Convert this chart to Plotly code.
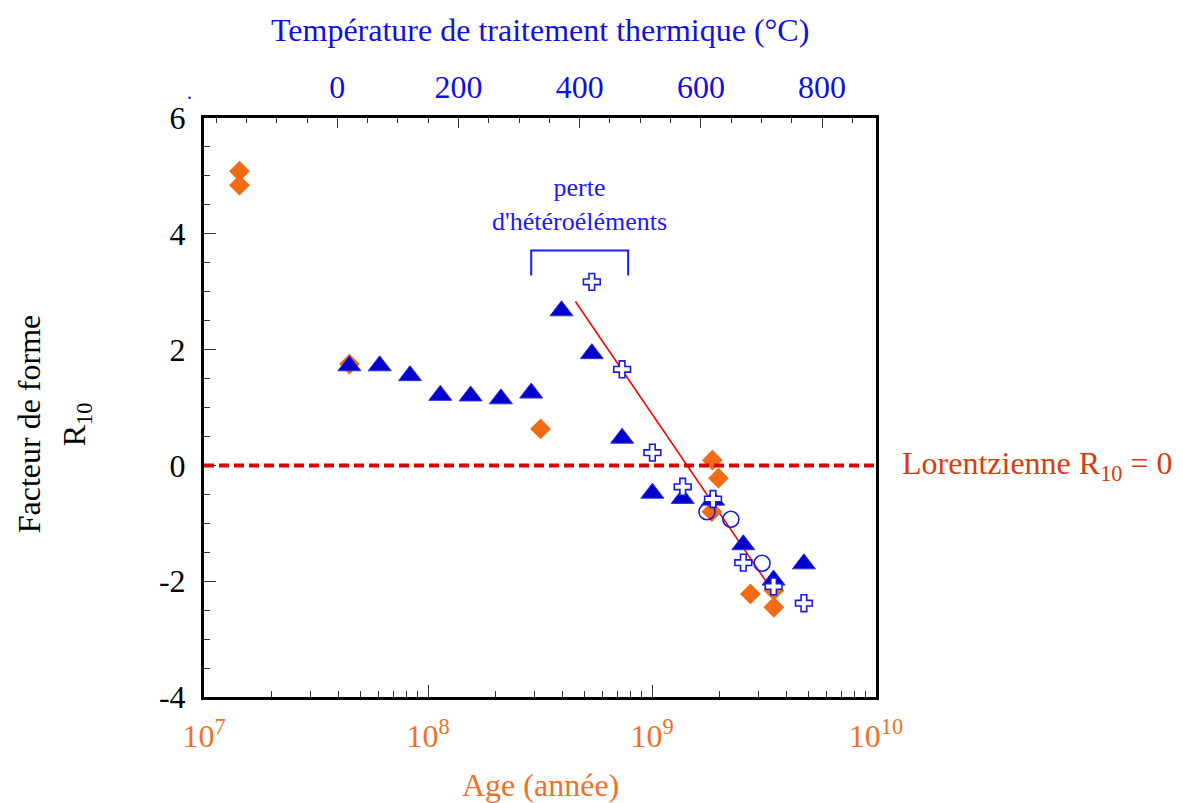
import plotly.graph_objects as go

# ---- data ----
# orange diamonds: age (years) vs R10
age_diamond = [1.44e7, 1.44e7, 4.46e7, 3.18e8, 1.86e9, 1.98e9, 1.85e9, 2.75e9, 3.5e9, 3.5e9]
r10_diamond = [5.08, 4.84, 1.75, 0.63, 0.09, -0.22, -0.80, -2.22, -2.16, -2.45]

# blue triangles: heat-treatment temperature (°C) vs R10
temp_triangle = [20, 70, 120, 170, 220, 270, 320, 370, 420, 470, 520, 570, 620, 670, 720, 770]
r10_triangle = [1.72, 1.72, 1.55, 1.21, 1.20, 1.15, 1.25, 2.67, 1.93, 0.47, -0.48, -0.57, -0.60, -1.37, -1.98, -1.70]

# open crosses: temperature (°C) vs R10
temp_cross = [420, 470, 520, 570, 620, 670, 720, 770]
r10_cross = [3.17, 1.66, 0.22, -0.37, -0.58, -1.68, -2.09, -2.38]

# open circles: age (years) vs R10
age_circle = [1.76e9, 2.25e9, 3.1e9]
r10_circle = [-0.80, -0.93, -1.69]

# red fit line (age axis)
age_fit = [4.55e8, 3.24e9]
r10_fit = [2.83, -2.01]

# bracket "perte d'hétéroéléments" (temperature axis)
temp_bracket = [320, 320, 480, 480]
r10_bracket = [3.28, 3.71, 3.71, 3.28]

# tick labels
y_ticks = [-4, -2, 0, 2, 4, 6]
y_ticktext = ["-4", "-2", "0", "2", "4", "6"]
age_ticks = [1e7, 1e8, 1e9, 1e10]
age_ticktext = ["10<sup>7</sup>", "10<sup>8</sup>", "10<sup>9</sup>", "10<sup>10</sup>"]
age_minor = [k * 10 ** n for n in (7, 8, 9) for k in range(2, 10)]
temp_ticks = [0, 200, 400, 600, 800]

FONT = "Liberation Serif"
FS = 32
BLUE = "#0000cc"
BLUE2 = "#1a1ae6"
TBLUE = "#1010e0"
ORANGE = "#f26b14"
AGEC = "#f07028"
LOR = "#d63c12"

fig = go.Figure()

fig.add_trace(go.Scatter(x=age_fit, y=r10_fit, mode="lines",
                         line=dict(color="#ff0000", width=1.6), xaxis="x", yaxis="y",
                         showlegend=False))
fig.add_trace(go.Scatter(x=age_diamond, y=r10_diamond, mode="markers",
                         marker=dict(symbol="diamond", size=16, color=ORANGE,
                                     line=dict(width=0)),
                         xaxis="x", yaxis="y", showlegend=False))
fig.add_trace(go.Scatter(x=age_circle, y=r10_circle, mode="markers",
                         marker=dict(symbol="circle-open", size=16, color=BLUE2,
                                     line=dict(width=1.6, color=BLUE2)),
                         xaxis="x", yaxis="y", showlegend=False))
fig.add_trace(go.Scatter(x=temp_triangle, y=r10_triangle, mode="markers",
                         marker=dict(symbol="triangle-up", size=20, color=BLUE,
                                     line=dict(width=1, color="#3333dd")),
                         xaxis="x2", yaxis="y", showlegend=False))
fig.add_trace(go.Scatter(x=temp_cross, y=r10_cross, mode="markers",
                         marker=dict(symbol="cross", size=14, color="white",
                                     line=dict(width=1.6, color=BLUE2)),
                         xaxis="x2", yaxis="y", showlegend=False))
fig.add_trace(go.Scatter(x=temp_bracket, y=r10_bracket, mode="lines",
                         line=dict(color="#1a1aff", width=2),
                         xaxis="x2", yaxis="y", showlegend=False))

fig.add_shape(type="line", xref="paper", yref="y", x0=0, x1=1, y0=0, y1=0,
              line=dict(color="#dd0000", width=4, dash="10px,5px"), layer="above")

annotations = [
    dict(text="Température de traitement thermique (°C)", xref="paper", yref="paper",
         x=0.5, y=1.152, xanchor="center", yanchor="middle", showarrow=False,
         font=dict(family=FONT, size=FS, color=TBLUE)),
    dict(text="Age (année)", xref="paper", yref="paper",
         x=0.5, y=-0.152, xanchor="center", yanchor="middle", showarrow=False,
         font=dict(family=FONT, size=FS, color=AGEC)),
    dict(text="Facteur de forme", xref="paper", yref="paper", textangle=-90,
         x=-0.26, y=0.4715, xanchor="center", yanchor="middle", showarrow=False,
         font=dict(family=FONT, size=FS, color="black")),
    dict(text="R<sub>10</sub>", xref="paper", yref="paper", textangle=-90,
         x=-0.19, y=0.4715, xanchor="center", yanchor="middle", showarrow=False,
         font=dict(family=FONT, size=FS, color="black")),
    dict(text="Lorentzienne R<sub>10</sub> = 0", xref="paper", yref="y",
         x=1.0357, y=0, xanchor="left", yanchor="middle", showarrow=False,
         font=dict(family=FONT, size=FS, color=LOR)),
    dict(text="perte<br>d'hétéroéléments", xref="x2", yref="y",
         x=400, y=4.51, xanchor="center", yanchor="middle", showarrow=False,
         font=dict(family=FONT, size=26, color="#1a1aff")),
    dict(text=".", xref="paper", yref="paper",
         x=-0.0216, y=1.045, xanchor="center", yanchor="middle", showarrow=False,
         font=dict(family=FONT, size=20, color=TBLUE)),
]

# page body has an 8px margin: figure is sized so that it fits the window exactly
fig.update_layout(
    width=1175, height=795,
    margin=dict(l=196, r=307, t=110, b=106, pad=0),
    paper_bgcolor="white", plot_bgcolor="white",
    showlegend=False,
    font=dict(family=FONT, size=FS, color="black"),
    annotations=annotations,
    xaxis=dict(type="log", range=[7, 10], tickmode="array", tickvals=age_ticks,
               ticktext=age_ticktext, ticks="inside", ticklen=12, tickwidth=1,
               tickcolor="#333", showgrid=False, zeroline=False,
               showline=True, linewidth=3, linecolor="black", mirror=True,
               tickfont=dict(family=FONT, size=FS, color=AGEC),
               ticklabelstandoff=9,
               minor=dict(tickmode="array", tickvals=age_minor, ticks="inside",
                          ticklen=6, tickwidth=1, tickcolor="#333", showgrid=False)),
    xaxis2=dict(overlaying="x", side="top", range=[-220, 889], tickmode="array",
                tickvals=temp_ticks, ticks="inside", ticklen=10, tickwidth=1,
                tickcolor="#333", showgrid=False, zeroline=False,
                showline=True, linewidth=3, linecolor="black",
                tickfont=dict(family=FONT, size=FS, color=TBLUE),
                ticklabelstandoff=4,
                minor=dict(dtick=50, tick0=0, ticks="inside", ticklen=5, tickwidth=1,
                           tickcolor="#333", showgrid=False)),
    yaxis=dict(range=[-4, 6], tickmode="array", tickvals=y_ticks, ticktext=y_ticktext,
               ticks="inside", ticklen=12, tickwidth=1, tickcolor="#333", showgrid=False,
               zeroline=False, showline=True, linewidth=3, linecolor="black",
               mirror=True, tickfont=dict(family=FONT, size=FS, color="black"),
               ticklabelstandoff=9,
               minor=dict(dtick=0.5, ticks="inside", ticklen=6, tickwidth=1,
                          tickcolor="#333", showgrid=False)),
)

fig.write_html("out.html")
